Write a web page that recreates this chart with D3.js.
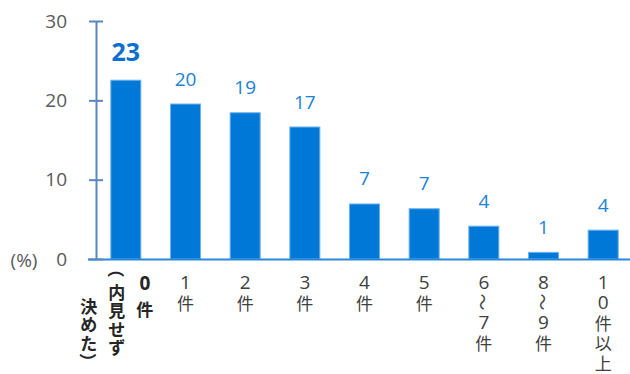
<!DOCTYPE html>
<html><head><meta charset="utf-8">
<script src="https://cdn.jsdelivr.net/npm/d3@7"></script>
<style>body{margin:0;background:#fff}svg{display:block}</style>
</head><body>
<svg id="c" width="630" height="374"></svg>
<script>
// Data
const categories = ["0件（内見せず決めた）","1件","2件","3件","4件","5件","6～7件","8～9件","10件以上"];
const values = [22.6, 19.6, 18.5, 16.7, 7.0, 6.4, 4.2, 0.9, 3.7];
const valueLabels = ["23","20","19","17","7","7","4","1","4"];
// vertical label columns (right-to-left)
const labelColumns = [
  [["0","件"],["（","内","見","せ","ず"],["決","め","た","）"]],
  [["1","件"]],[["2","件"]],[["3","件"]],[["4","件"]],[["5","件"]],
  [["6","～","7","件"]],[["8","～","9","件"]],[["1","0","件","以","上"]]
];
const yTicks = [0,10,20,30];
const unitLabel = "(%)";

const svg = d3.select("#c");
const axisX = 96, baseY = 259, topY = 21;
const x = d3.scaleBand().domain(categories).range([axisX, 633]).paddingInner(0.48).paddingOuter(0.24);
const y = d3.scaleLinear().domain([0,30]).range([baseY, topY]);
const num = "'Segoe UI','Open Sans','Noto Sans',sans-serif";
const jp = "'Noto Sans CJK JP',sans-serif";

// bars
svg.append("g").selectAll("rect").data(values).join("rect")
  .attr("x",(d,i)=>x(categories[i])+0.5)
  .attr("y",d=>y(d)+0.5)
  .attr("width",x.bandwidth()-1)
  .attr("height",d=>baseY-y(d)-0.5)
  .attr("fill","#0078d7").attr("stroke","#6fb2ec").attr("stroke-width",1);

// baseline
svg.append("line").attr("x1",axisX-8).attr("x2",630).attr("y1",baseY+0.5).attr("y2",baseY+0.5)
  .attr("stroke","#2a87d9").attr("stroke-width",2);

// y axis
const yAxis = d3.axisLeft(y).tickValues(yTicks).tickSize(0).tickPadding(29);
const ga = svg.append("g").attr("transform",`translate(${axisX},0)`).call(yAxis);
ga.select(".domain").attr("stroke","#5b86c0").attr("stroke-width",2);
ga.selectAll(".tick text").attr("fill","#595959").attr("font-size",19).attr("font-family",num);
ga.selectAll(".tick").append("line").attr("x1",-7).attr("x2",7).attr("stroke","#5b86c0").attr("stroke-width",2);

svg.append("text").attr("x",24).attr("y",baseY+1).attr("dy","0.36em").attr("text-anchor","middle")
  .attr("fill","#595959").attr("font-size",19).attr("font-family",num).text(unitLabel);

// value labels
svg.append("g").selectAll("text").data(values).join("text")
  .attr("x",(d,i)=>x(categories[i])+x.bandwidth()/2)
  .attr("y",(d,i)=>y(d)-(i===0?19:18))
  .attr("text-anchor","middle")
  .attr("fill",(d,i)=>i===0?"#0a6fd0":"#1a82d8")
  .attr("font-weight",(d,i)=>i===0?"bold":"normal")
  .attr("font-size",(d,i)=>i===0?25:19)
  .attr("font-family",num)
  .text((d,i)=>valueLabels[i]);

// x labels (vertical)
const lg = svg.append("g");
labelColumns.forEach((cols,i)=>{
  const cx = x(categories[i])+x.bandwidth()/2;
  const bold = i===0;
  const nCol = cols.length;
  cols.forEach((chars,ci)=>{
    const colX = nCol>1 ? cx - 9 + (1-ci)*28 : cx;
    let yy = nCol>1 ? [283,291,305][ci] : 282;
    chars.forEach((ch,k)=>{
      const isDigit = /[0-9]/.test(ch);
      const isOpen = ch==="（", isClose = ch==="）";
      let ty = yy;
      if(isOpen) ty = yy - 22;
      if(isClose) ty = yy + 1;
      const t = lg.append("text")
        .attr("x",colX).attr("y",ty)
        .attr("dominant-baseline","central")
        .attr("text-anchor","middle")
        .attr("fill",bold?"#262626":"#404040")
        .attr("font-weight",bold?"bold":"normal")
        .attr("font-size",isDigit?19:17)
        .attr("font-family",isDigit?num:jp)
        .text(ch);
      if(ch==="～"||isOpen||isClose) t.attr("transform",`rotate(90,${colX},${ty})`);
      let step = bold ? 18.5 : 20;
      if(isOpen) step = 0;
      if(bold && isDigit) step = 25;
      yy += step;
    });
  });
});
</script>
</body></html>
